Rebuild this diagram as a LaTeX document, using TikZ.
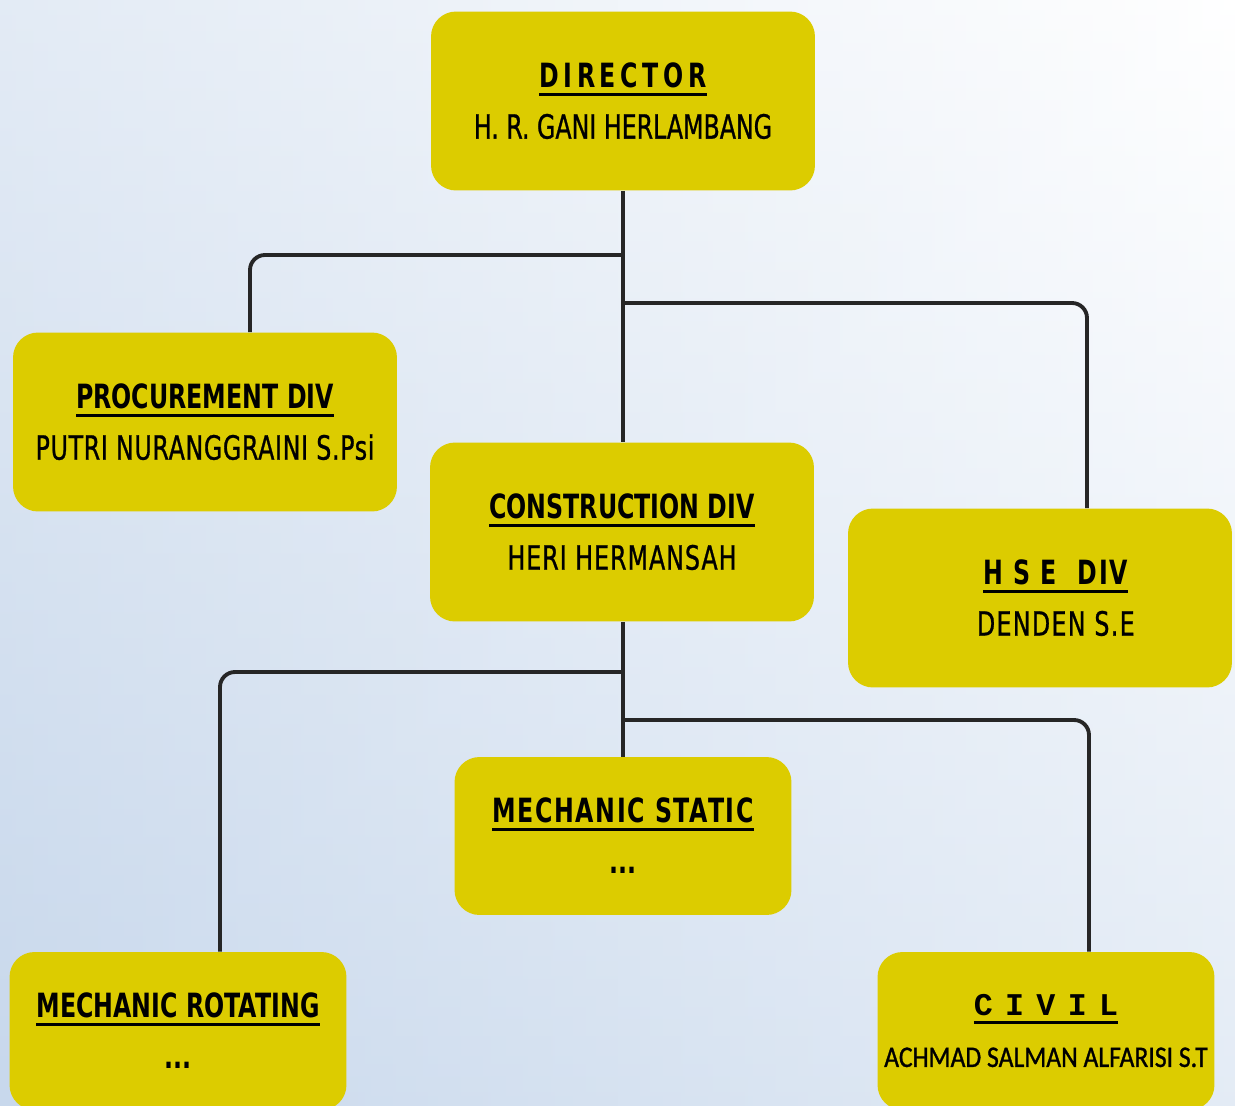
\documentclass[tikz,border=0pt]{standalone}
\usepackage{fontspec}
\setmainfont{DejaVu Sans}[FakeStretch=0.71]
\newfontfamily\namefont{DejaVu Sans}[FakeStretch=0.71, FakeBold=0.8]
\newfontfamily\civilfont{Liberation Mono}
\newfontfamily\narrowfont{Carlito}[FakeStretch=0.86, FakeBold=1]
\usetikzlibrary{positioning}

\definecolor{boxyellow}{RGB}{220,204,0}
\definecolor{bgblue}{RGB}{200,216,236}

% underlined heading with a heavy rule
\newcommand\ulhead[1]{\setbox0\hbox{#1}\leavevmode\rlap{\rule[-4.5pt]{\wd0}{1.7pt}}\box0}

\begin{document}
\begin{tikzpicture}[x=0.02cm, y=-0.02cm,
    unit/.style={rectangle, rounded corners=0.5cm, fill=boxyellow, align=center,
      minimum width=7.68cm, minimum height=3.58cm, inner sep=0pt,
      font=\fontsize{19}{24}\selectfont},
    subunit/.style={unit, minimum width=6.74cm, minimum height=3.16cm},
    link/.style={line width=2.2pt, black!85, rounded corners=0.3cm}
  ]
  % background
  \useasboundingbox (0,0) rectangle (1235,1106);
  \clip (0,0) rectangle (1235,1106);
  \shade[top color=white, bottom color=bgblue] (0,0) rectangle (1235,1106);
  \shade[left color=bgblue, right color=white, opacity=0.5] (0,0) rectangle (1235,1106);

  % Units
  \node[unit] (dir) at (623,101)
    {\ulhead{\bfseries\addfontfeature{LetterSpace=14}DIRECTOR}\\[5pt] \namefont H. R. GANI HERLAMBANG};
  \node[unit] (proc) at (205,422)
    {\ulhead{\bfseries PROCUREMENT DIV}\\[5pt] \namefont\addfontfeature{LetterSpace=2}PUTRI NURANGGRAINI S.Psi};
  \node[unit] (con) at (622,532)
    {\ulhead{\bfseries CONSTRUCTION DIV}\\[5pt] \namefont\addfontfeature{LetterSpace=3}HERI HERMANSAH};
  \node[unit] (hse) at (1040,598)
    {\hspace*{18pt}\ulhead{\bfseries\addfontfeature{LetterSpace=6}H S E\ \ DIV}\\[5pt]
     \hspace*{18pt}\namefont\addfontfeature{LetterSpace=4}DENDEN S.E};

  % Sub units
  \node[subunit] (sta) at (623,836)
    {\ulhead{\bfseries\addfontfeature{LetterSpace=5}MECHANIC STATIC}\\[5pt] \textbf{...}};
  \node[subunit] (rot) at (178,1031)
    {\ulhead{\bfseries MECHANIC ROTATING}\\[5pt] \textbf{...}};
  \node[subunit] (civ) at (1046,1031)
    {\ulhead{\civilfont\bfseries\fontsize{18}{24}\selectfont
       C\hspace{7pt}I\hspace{7pt}V\hspace{7pt}I\hspace{7pt}L}\\[5pt]
     {\narrowfont\fontsize{17}{24}\selectfont ACHMAD SALMAN ALFARISI S.T}};

  % Lines from director
  \draw[link] (dir.south) -- (dir.south |- con.north);
  \draw[link] (dir.south |- 0,255) -| (proc.north -| 250,0);
  \draw[link] (dir.south |- 0,303) -| (hse.north -| 1087,0);

  % Lines from construction
  \draw[link] (con.south -| dir.south) -- (dir.south |- sta.north);
  \draw[link] (dir.south |- 0,672) -| (rot.north -| 220,0);
  \draw[link] (dir.south |- 0,720) -| (civ.north -| 1089,0);
\end{tikzpicture}
\end{document}
